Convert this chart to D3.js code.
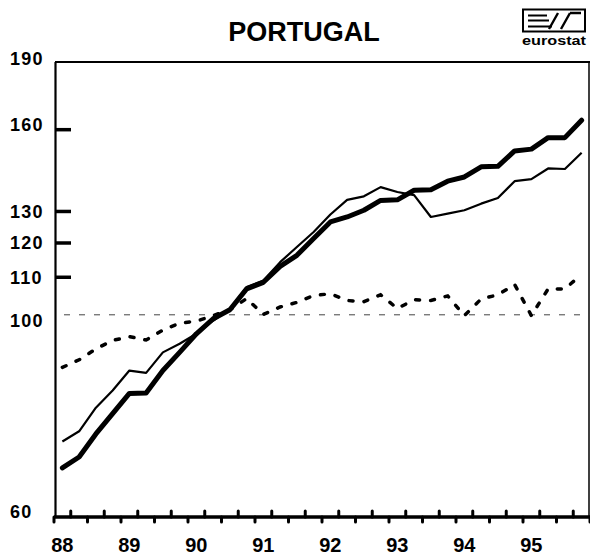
<!DOCTYPE html>
<html lang="en">
	<head>
		<meta charset="utf-8">
		<title>Portugal</title>
		<script type="text/javascript" src="https://cdn.jsdelivr.net/npm/d3@7"></script>
		<style type="text/css">
			body {
				margin: 0;
				background: white;
			}
			text {
				font-family: "Liberation Sans", Arial, sans-serif;
				font-weight: bold;
				fill: black;
			}
			.xlab {
				font-family: "Liberation Sans Narrow", "Liberation Sans", Arial, sans-serif;
				font-size: 20px;
			}
			.ylab {
				font-size: 18px;
				letter-spacing: 1.2px;
			}
		</style>
	</head>
	<body>
		<script type="text/javascript">
			//Width and height
			var w = 590;
			var h = 559;

			//Data, quarterly 88Q1 - 95Q4
			var years = ["88", "89", "90", "91", "92", "93", "94", "95"];
			var quarterNames = ["Q1", "Q2", "Q3", "Q4"];

			var thickSeries = [67.8, 69.7, 73.9, 77.8, 81.9, 82.0, 86.8, 90.9,
				95.3, 99.0, 101.3, 106.8, 108.6, 113.1, 116.3, 121.4,
				126.6, 128.2, 130.4, 133.7, 133.9, 137.2, 137.4, 140.4,
				141.9, 145.6, 145.8, 151.6, 152.3, 156.8, 156.8, 163.9];

			var thinSeries = [72.5, 74.4, 79.0, 82.5, 86.8, 86.3, 90.9, 92.9,
				95.3, 98.5, 101.5, 107.3, 109.1, 114.3, 118.8, 123.4,
				129.0, 133.9, 135.1, 138.3, 136.6, 135.5, 128.2, 129.3,
				130.4, 132.6, 134.5, 140.4, 141.1, 145.0, 144.8, 150.9];

			var dottedSeries = [87.5, 89.2, 91.7, 93.7, 94.6, 93.8, 96.2, 97.9,
				98.4, 99.8, 101.3, 104.2, 100.1, 102.0, 103.2, 105.0,
				105.5, 103.7, 103.4, 105.2, 101.6, 103.9, 103.7, 104.9,
				99.8, 104.1, 105.2, 108.0, 99.8, 106.8, 106.8, 110.8];

			var yTicks = [190, 160, 130, 120, 110, 100, 60];
			var yTickMarks = [160, 130, 120, 110];
			var baseLevel = 100;

			var quarters = [];
			years.forEach(function(y) {
				quarters.push.apply(quarters, quarterNames.map(function(q) { return y + q; }));
			});

			//Plot edges
			var padLeft = 54, padRight = 590, padTop = 62, padBottom = 516;

			var xScale = d3.scaleBand()
				.domain(quarters)
				.range([padLeft, padRight]);

			var yScale = d3.scaleLog()
				.domain([60, 190])
				.range([padBottom, padTop]);

			function xMid(q) {
				return xScale(q) + xScale.bandwidth() / 2;
			}

			var svg = d3.select("body")
				.append("svg")
				.attr("width", w)
				.attr("height", h);

			svg.append("rect")
				.attr("width", w)
				.attr("height", h)
				.attr("fill", "white");

			//Title
			svg.append("text")
				.attr("x", 304)
				.attr("y", 41)
				.attr("text-anchor", "middle")
				.style("font-size", "27px")
				.text("PORTUGAL");

			//eurostat logo
			var logo = svg.append("g")
				.attr("fill", "none")
				.attr("stroke", "black");
			logo.append("rect")
				.attr("x", 523)
				.attr("y", 9.5)
				.attr("width", 62)
				.attr("height", 22)
				.attr("stroke-width", 2);
			logo.append("path")
				.attr("d", "M528,15.5H547 M528,20.5H549 M528,26.5H552")
				.attr("stroke-width", 1.8);
			logo.append("path")
				.attr("d", "M549,29L558,13 M561,29L570,13 M570,13H581")
				.attr("stroke-width", 2.4);
			svg.append("text")
				.attr("x", 522)
				.attr("y", 45)
				.attr("textLength", 64)
				.attr("lengthAdjust", "spacingAndGlyphs")
				.style("font-size", "12px")
				.text("eurostat");

			//Frame
			svg.append("line")
				.attr("x1", padLeft + 1).attr("x2", padRight)
				.attr("y1", padTop).attr("y2", padTop)
				.attr("stroke", "black")
				.attr("stroke-width", 2);
			svg.append("line")
				.attr("x1", padLeft + 1.5).attr("x2", padLeft + 1.5)
				.attr("y1", padTop).attr("y2", padBottom + 1)
				.attr("stroke", "black")
				.attr("stroke-width", 2.2);
			svg.append("line")
				.attr("x1", padRight - 1).attr("x2", padRight - 1)
				.attr("y1", padTop).attr("y2", padBottom + 1)
				.attr("stroke", "black")
				.attr("stroke-width", 1.5);

			//100 reference line
			svg.append("line")
				.attr("x1", padLeft + 10).attr("x2", padRight)
				.attr("y1", yScale(baseLevel)).attr("y2", yScale(baseLevel))
				.attr("stroke", "#444")
				.attr("stroke-width", 1)
				.attr("stroke-dasharray", "6,9");

			//Y labels and ticks
			var labelNudge = {190: -3, 160: -5, 100: 6, 60: -4};
			svg.append("g")
				.selectAll("text")
				.data(yTicks)
				.enter()
				.append("text")
				.attr("class", "ylab")
				.attr("x", 10)
				.attr("y", function(d) {
					return yScale(d) + (labelNudge[d] || 0);
				})
				.attr("dy", "0.36em")
				.text(function(d) { return d; });

			svg.append("g")
				.selectAll("line")
				.data(yTickMarks)
				.enter()
				.append("line")
				.attr("x1", padLeft + 2)
				.attr("x2", padLeft + 17)
				.attr("y1", function(d) { return yScale(d); })
				.attr("y2", function(d) { return yScale(d); })
				.attr("stroke", "black")
				.attr("stroke-width", 3.5);

			//X axis, ticks alternate below / above
			var edges = quarters.map(function(q) { return xScale(q); });
			edges.push(padRight);

			svg.append("line")
				.attr("x1", padLeft).attr("x2", padRight)
				.attr("y1", padBottom + 1).attr("y2", padBottom + 1)
				.attr("stroke", "black")
				.attr("stroke-width", 3.5);

			svg.append("g")
				.selectAll("line")
				.data(edges)
				.enter()
				.append("line")
				.attr("x1", function(d) { return d; })
				.attr("x2", function(d) { return d; })
				.attr("y1", padBottom + 1)
				.attr("y2", function(d, i) {
					return i % 2 === 0 ? padBottom + 6 : padBottom - 5;
				})
				.attr("stroke", "black")
				.attr("stroke-width", 3)
				.attr("stroke-linecap", "round");

			svg.append("g")
				.selectAll("text")
				.data(years)
				.enter()
				.append("text")
				.attr("class", "xlab")
				.attr("x", function(d) { return xMid(d + "Q1"); })
				.attr("y", 552)
				.attr("text-anchor", "middle")
				.text(function(d) { return d; });

			//Lines
			var line = d3.line()
				.x(function(d, i) { return xMid(quarters[i]); })
				.y(function(d) { return yScale(d); });

			svg.append("path")
				.datum(dottedSeries)
				.attr("d", line)
				.attr("fill", "none")
				.attr("stroke", "black")
				.attr("stroke-width", 3.5)
				.attr("stroke-linecap", "round")
				.attr("stroke-dasharray", "4,11");

			svg.append("path")
				.datum(thinSeries)
				.attr("d", line)
				.attr("fill", "none")
				.attr("stroke", "black")
				.attr("stroke-width", 2.2)
				.attr("stroke-linejoin", "round");

			svg.append("path")
				.datum(thickSeries)
				.attr("d", line)
				.attr("fill", "none")
				.attr("stroke", "black")
				.attr("stroke-width", 5)
				.attr("stroke-linejoin", "round")
				.attr("stroke-linecap", "round");
		</script>
	</body>
</html>
